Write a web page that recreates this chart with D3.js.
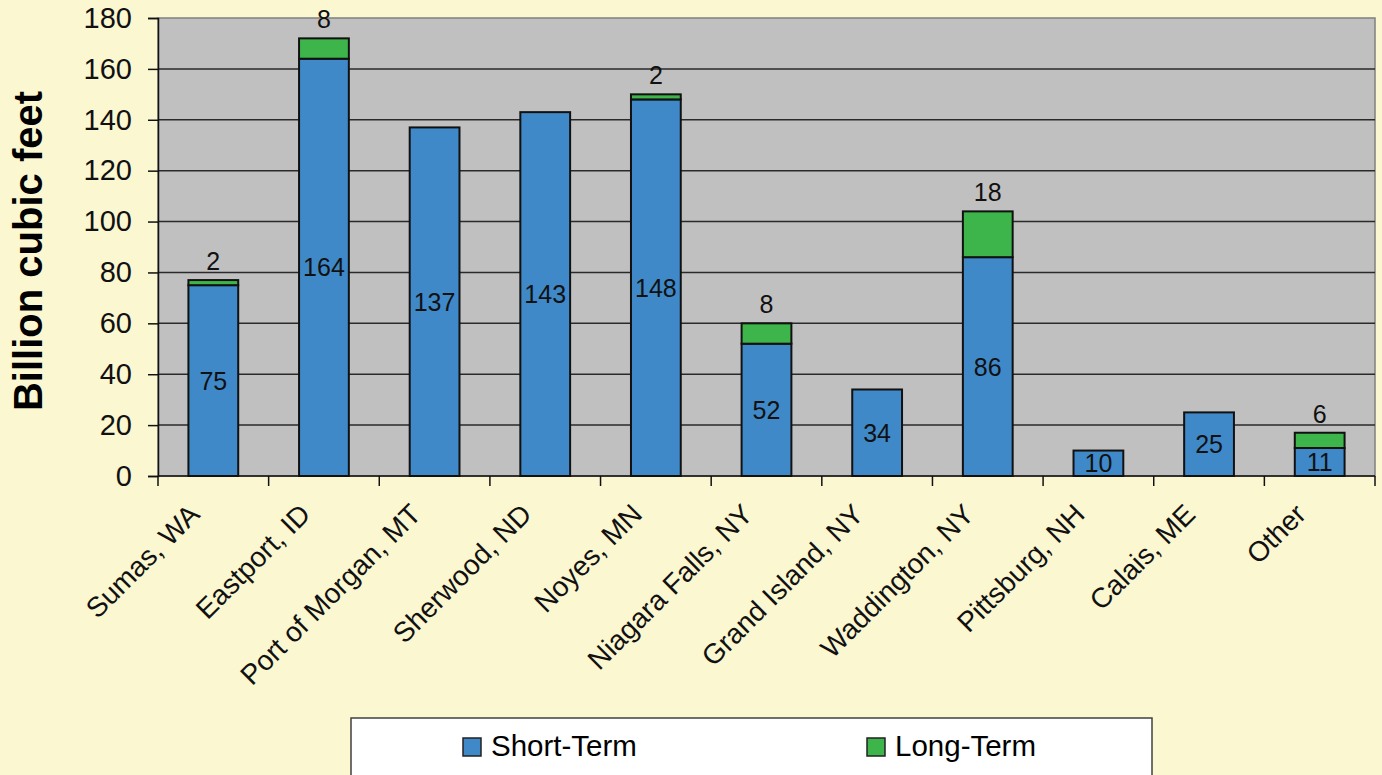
<!DOCTYPE html>
<html lang="en">
<head>
  <meta charset="UTF-8">
  <title>Imports by Port</title>
  <script src="https://d3js.org/d3.v7.min.js"></script>
  <style>
    body { margin: 0; background: #fbf7d1; }
    svg { display: block; font-family: "Liberation Sans", Arial, sans-serif; }
  </style>
</head>
<body>
<div id="chart"></div>
<script>
  // Chart data
  const ports = ["Sumas, WA", "Eastport, ID", "Port of Morgan, MT", "Sherwood, ND", "Noyes, MN",
    "Niagara Falls, NY", "Grand Island, NY", "Waddington, NY", "Pittsburg, NH", "Calais, ME", "Other"];
  const shortTerm = [75, 164, 137, 143, 148, 52, 34, 86, 10, 25, 11];
  const longTerm = [2, 8, 0, 0, 2, 8, 0, 18, 0, 0, 6];
  const seriesNames = ["Short-Term", "Long-Term"];
  const seriesColors = ["#3f89c9", "#3db54a"];
  const yTicks = [0, 20, 40, 60, 80, 100, 120, 140, 160, 180];

  const W = 1382, H = 775;
  const margin = { top: 18, right: 7, bottom: 299, left: 158 };
  const width = W - margin.left - margin.right;
  const height = H - margin.top - margin.bottom;

  const svg = d3.select("#chart").append("svg")
    .attr("width", W).attr("height", H);

  const g = svg.append("g")
    .attr("transform", `translate(${margin.left},${margin.top})`);

  const x = d3.scaleBand().domain(ports).range([0, width]).paddingInner(0.55).paddingOuter(0.275);
  const y = d3.scaleLinear().domain([0, 180]).range([height, 0]);
  const idx = d3.range(ports.length);

  // plot area
  g.append("rect")
    .attr("width", width).attr("height", height)
    .attr("fill", "#c0c0c0").attr("stroke", "#808080").attr("stroke-width", 1.5);

  // gridlines
  g.selectAll(".grid").data(yTicks.slice(1, -1)).enter().append("line")
    .attr("x1", 0).attr("x2", width)
    .attr("y1", d => y(d)).attr("y2", d => y(d))
    .attr("stroke", "#2a2a2a").attr("stroke-width", 1.5);

  // stacked bars
  const stack = d3.stack().keys([0, 1])(idx.map(i => [shortTerm[i], longTerm[i]]));
  stack.forEach((layer, k) => {
    g.selectAll(".bar" + k).data(idx.filter(i => layer[i][1] - layer[i][0] > 0)).enter().append("rect")
      .attr("x", i => x(ports[i]))
      .attr("y", i => y(layer[i][1]))
      .attr("width", x.bandwidth())
      .attr("height", i => y(layer[i][0]) - y(layer[i][1]))
      .attr("fill", seriesColors[k])
      .attr("stroke", "#111").attr("stroke-width", 2);
  });

  // axes
  const yAxis = g.append("g").call(d3.axisLeft(y).tickValues(yTicks).tickSize(10).tickPadding(16));
  yAxis.select(".domain").attr("stroke", "#111").attr("stroke-width", 1.5);
  yAxis.selectAll(".tick line").attr("stroke", "#111").attr("stroke-width", 1.5);
  yAxis.selectAll("text").attr("font-size", 29).attr("fill", "#111").attr("font-family", "Liberation Sans, Arial");

  const xAxis = g.append("g").attr("transform", `translate(0,${height})`);
  xAxis.append("line").attr("x1", 0).attr("x2", width).attr("stroke", "#111").attr("stroke-width", 1.5);
  const step = x.step();
  xAxis.selectAll(".xt").data(d3.range(ports.length + 1)).enter().append("line")
    .attr("x1", i => i * step).attr("x2", i => i * step)
    .attr("y1", 0).attr("y2", 10)
    .attr("stroke", "#111").attr("stroke-width", 1.5);
  xAxis.selectAll(".xl").data(ports).enter().append("text")
    .attr("transform", d => `translate(${x(d) + x.bandwidth() / 2 - 12},${40}) rotate(-45)`)
    .attr("text-anchor", "end")
    .attr("font-size", 28).attr("fill", "#111")
    .text(d => d);

  // data labels
  g.selectAll(".sl").data(idx).enter().append("text")
    .attr("x", i => x(ports[i]) + x.bandwidth() / 2)
    .attr("y", i => y(shortTerm[i] / 2))
    .attr("dy", "0.36em")
    .attr("text-anchor", "middle")
    .attr("font-size", 25).attr("fill", "#111")
    .text(i => shortTerm[i]);
  g.selectAll(".ll").data(idx.filter(i => longTerm[i] > 0)).enter().append("text")
    .attr("x", i => x(ports[i]) + x.bandwidth() / 2)
    .attr("y", i => y(shortTerm[i] + longTerm[i]) - 10)
    .attr("text-anchor", "middle")
    .attr("font-size", 25).attr("fill", "#111")
    .text(i => longTerm[i]);

  // y title
  svg.append("text")
    .attr("transform", `translate(42,251) rotate(-90)`)
    .attr("text-anchor", "middle")
    .attr("font-size", 40).attr("font-weight", "bold").attr("fill", "#000")
    .text("Billion cubic feet");

  // legend
  const leg = svg.append("g");
  leg.append("rect")
    .attr("x", 351).attr("y", 718).attr("width", 801).attr("height", 62)
    .attr("fill", "#fff").attr("stroke", "#404040").attr("stroke-width", 1.5);
  const legX = [463, 867];
  seriesNames.forEach((s, k) => {
    leg.append("rect")
      .attr("x", legX[k]).attr("y", 738).attr("width", 18).attr("height", 18)
      .attr("fill", seriesColors[k]).attr("stroke", "#222").attr("stroke-width", 1.5);
    leg.append("text")
      .attr("x", legX[k] + 28).attr("y", 756)
      .attr("font-size", 29.5).attr("fill", "#000")
      .text(s);
  });
</script>
</body>
</html>
